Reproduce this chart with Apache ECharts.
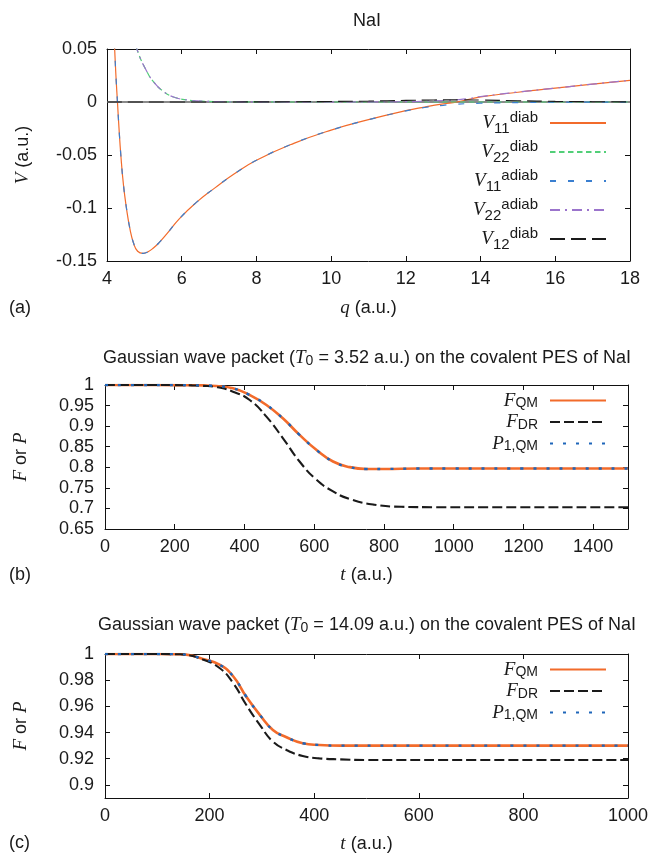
<!DOCTYPE html>
<html>
<head>
<meta charset="utf-8">
<script src="https://cdn.jsdelivr.net/npm/echarts@6/dist/echarts.min.js"></script>
<style>html,body{margin:0;padding:0;background:#fff}#c{width:653px;height:855px}</style>
</head>
<body>
<div id="c"></div>
<script>
// ---------- Panel (a): NaI potentials ----------
const qV11diab = [4.15,4.205,4.24,4.28,4.32,4.37,4.44,4.52,4.61,4.71,4.82,4.97,5.10,5.25,5.40,5.60,5.94,6.40,6.89,7.40,8.0,9.0,10.0,11.0,12.0,12.5,13.0,13.37,14.0,15.0,16.0,17.0,18.0];
const vV11diab = [0.090,0.050,0.024,0.000,-0.024,-0.050,-0.078,-0.100,-0.119,-0.133,-0.1408,-0.1428,-0.1413,-0.1375,-0.1325,-0.1245,-0.110,-0.0945,-0.081,-0.068,-0.055,-0.039,-0.0265,-0.0167,-0.0082,-0.0048,-0.0018,0.0,0.0048,0.0092,0.0130,0.0169,0.0204];

const qV22diab = [4.60,4.80,5.07,5.27,5.47,5.78,6.23,6.50,7.0,8.0,10.0,12.0,14.0,16.0,18.0];
const vV22diab = [0.076,0.050,0.0285,0.018,0.0111,0.0047,0.0016,0.0009,0.0003,0.0001,0,0,0,0,0];

const qV11adiab = [4.15,4.205,4.24,4.28,4.32,4.37,4.44,4.52,4.61,4.71,4.82,4.97,5.10,5.25,5.40,5.60,5.94,6.40,6.89,7.40,8.0,9.0,10.0,11.0,12.0,12.5,13.0,13.37,14.0,14.5,15.0,16.0,17.0,18.0];
const vV11adiab = [0.090,0.050,0.024,0.000,-0.024,-0.050,-0.078,-0.100,-0.119,-0.133,-0.1408,-0.1428,-0.1413,-0.1375,-0.1325,-0.1245,-0.110,-0.0945,-0.081,-0.068,-0.055,-0.039,-0.0265,-0.0167,-0.0084,-0.0052,-0.0031,-0.0020,-0.0012,-0.0008,-0.0005,-0.0002,-0.0001,0.0];

const qV22adiab = [4.60,4.80,5.07,5.27,5.47,5.78,6.23,6.50,7.0,8.0,10.0,11.0,12.0,12.5,13.0,13.37,13.7,14.0,14.5,15.0,16.0,17.0,18.0];
const vV22adiab = [0.076,0.050,0.0285,0.018,0.0111,0.0047,0.0016,0.0009,0.0003,0.0001,0,0.0001,0.0003,0.0007,0.0014,0.0021,0.0033,0.0052,0.0073,0.0094,0.0131,0.0169,0.0204];

const qV12diab = [4,6,8,9,10,11,12,12.5,13,13.5,14,15,16,17,18];
const vV12diab = [0,0,0.0001,0.0002,0.0005,0.0009,0.0015,0.0018,0.0020,0.0020,0.0018,0.0012,0.0006,0.0003,0.0001];

const qTicks = [4,18,2];          // min, max, step
const vTicks = [-0.15,0.05,0.05];

// ---------- Panel (b): T0 = 3.52 a.u. ----------
const tFQMb = [0,100,200,250,280,319,367,415,463,510,558,606,654,702,750,800,900,1000,1200,1500];
const FQMb  = [1,1,0.9998,0.9993,0.999,0.9975,0.992,0.9757,0.9515,0.919,0.8787,0.8424,0.814,0.8004,0.796,0.796,0.797,0.797,0.797,0.797];
const tFDRb = [0,100,200,250,280,319,367,415,463,510,558,606,654,702,773,850,950,1100,1500];
const FDRb  = [1,1,0.9998,0.999,0.998,0.995,0.9838,0.9636,0.9232,0.871,0.814,0.770,0.7413,0.7228,0.709,0.704,0.703,0.703,0.703];
const tP1b  = [0,100,200,250,280,319,367,415,463,510,558,606,654,702,750,800,900,1000,1200,1500];
const P1b   = [1,1,0.9998,0.9993,0.999,0.9975,0.992,0.9757,0.9515,0.919,0.8787,0.8424,0.814,0.8004,0.796,0.796,0.797,0.797,0.797,0.797];

// ---------- Panel (c): T0 = 14.09 a.u. ----------
const tFQMc = [0,100,140,155,187,219,245,270,296,321,347,378,410,450,600,800,1000];
const FQMc  = [1,1,0.9998,0.9995,0.9962,0.9918,0.983,0.9675,0.9535,0.942,0.9364,0.9318,0.9305,0.930,0.930,0.930,0.930];
const tFDRc = [0,100,140,155,187,219,245,270,296,321,347,378,410,450,500,700,1000];
const FDRc  = [1,1,0.9998,0.9994,0.9958,0.9893,0.9778,0.9612,0.9459,0.9331,0.9267,0.9221,0.9203,0.9195,0.919,0.919,0.919];
const tP1c  = [0,100,140,155,187,219,245,270,296,321,347,378,410,450,600,800,1000];
const P1c   = [1,1,0.9998,0.9995,0.9962,0.9918,0.983,0.9675,0.9535,0.942,0.9364,0.9318,0.9305,0.930,0.930,0.930,0.930];
const cYTicks = [0.9,0.92,0.94,0.96,0.98,1];

// ---------- styling ----------
const SANS = 'Liberation Sans';
const SERIF = 'Liberation Serif';
const TXT = '#1a1a1a';
const FS = 18;
const ORANGE = '#f26b2b', GREEN = '#52cf78', BLUE_A = '#3a7fd0', PURPLE = '#9b74cc', BLACK = '#1a1a1a', BLUE = '#1e66ba';

const zip = (xs, ys) => xs.map((x, i) => [x, ys[i]]);
const fmt = v => String(+(+v).toFixed(4));

function axisBase(extra) {
  return Object.assign({
    type: 'value',
    axisLine: {show: true, onZero: false, lineStyle: {color: '#111', width: 1}},
    axisTick: {show: true, inside: true, length: 5, lineStyle: {color: '#111', width: 1}},
    splitLine: {show: false},
    axisLabel: {color: TXT, fontSize: FS, fontFamily: SANS, margin: 9, formatter: fmt}
  }, extra);
}
const nameStyle = {
  color: TXT, fontSize: FS, fontFamily: SANS, lineHeight: 20,
  rich: {i: {fontFamily: SERIF, fontStyle: 'italic', fontSize: 19, lineHeight: 20}}
};

function mirrorX(grid, min, max, step) {
  return axisBase({gridIndex: grid, position: 'top', min, max, interval: step, axisLabel: {show: false}});
}
function mirrorY(grid, min, max, step) {
  return axisBase({gridIndex: grid, position: 'right', min, max, interval: step, axisLabel: {show: false}});
}

function line(name, data, axis, color, width, type, extra) {
  return Object.assign({
    name, type: 'line', data, xAxisIndex: axis, yAxisIndex: axis,
    showSymbol: false, symbol: 'none', smooth: 0.5,
    clip: true, silent: true,
    lineStyle: {color, width, type},
    itemStyle: {color}
  }, extra || {});
}

const legendText = {
  'V11diab': '{v|V}{sub|11}{sup|diab}',
  'V22diab': '{v|V}{sub|22}{sup|diab}',
  'V11adiab': '{v|V}{sub|11}{sup|adiab}',
  'V22adiab': '{v|V}{sub|22}{sup|adiab}',
  'V12diab': '{v|V}{sub|12}{sup|diab}',
  'FQM_b': '{v|F}{sub|QM}', 'FDR_b': '{v|F}{sub|DR}', 'P1_b': '{v|P}{sub|1,QM}',
  'FQM_c': '{v|F}{sub|QM}', 'FDR_c': '{v|F}{sub|DR}', 'P1_c': '{v|P}{sub|1,QM}'
};
const richA = {
  v: {fontFamily: SERIF, fontStyle: 'italic', fontSize: 19, lineHeight: 26, verticalAlign: 'middle', color: TXT},
  sub: {fontFamily: SANS, fontSize: 15, lineHeight: 13, verticalAlign: 'bottom', color: TXT},
  sup: {fontFamily: SANS, fontSize: 15, lineHeight: 13, verticalAlign: 'top', color: TXT, padding: [0, 7, 0, 0]}
};
const richB = {
  v: {fontFamily: SERIF, fontStyle: 'italic', fontSize: 19, lineHeight: 20, verticalAlign: 'middle', color: TXT},
  sub: {fontFamily: SANS, fontSize: 14, lineHeight: 10, verticalAlign: 'bottom', color: TXT, padding: [0, 7, 0, 0]}
};
function legend(names, top, gap, rich) {
  return {
    data: names, orient: 'vertical', right: 46, top, align: 'right', padding: 0,
    itemWidth: 56, itemHeight: 14, itemGap: gap, selectedMode: false,
    itemStyle: {opacity: 0},
    formatter: n => legendText[n],
    textStyle: {color: TXT, fontFamily: SANS, rich}
  };
}
const titleRich = {
  i: {fontFamily: SERIF, fontStyle: 'italic', fontSize: 19, lineHeight: 20, verticalAlign: 'middle', color: TXT},
  s: {fontFamily: SANS, fontSize: 14, lineHeight: 10, verticalAlign: 'bottom', color: TXT}
};
function title(text, top) {
  return {text, left: 367, top, textAlign: 'center', padding: 0,
    textStyle: {color: TXT, fontSize: FS, fontFamily: SANS, fontWeight: 'normal', lineHeight: 20, rich: titleRich}};
}

const option = {
  animation: false,
  backgroundColor: '#fff',
  title: [
    title('NaI', 11),
    title('Gaussian wave packet ({i|T}{s|0} = 3.52 a.u.) on the covalent PES of NaI', 348),
    title('Gaussian wave packet ({i|T}{s|0} = 14.09 a.u.) on the covalent PES of NaI', 615)
  ],
  grid: [
    {left: 107, top: 49, width: 523, height: 212},
    {left: 105, top: 385, width: 523, height: 144},
    {left: 105, top: 654, width: 523, height: 144}
  ],
  xAxis: [
    axisBase({gridIndex: 0, min: qTicks[0], max: qTicks[1], interval: qTicks[2],
      name: '{i|q} (a.u.)', nameLocation: 'middle', nameGap: 37, nameTextStyle: nameStyle}),
    mirrorX(0, qTicks[0], qTicks[1], qTicks[2]),
    axisBase({gridIndex: 1, min: 0, max: 1500, interval: 200,
      axisLabel: {color: TXT, fontSize: FS, fontFamily: SANS, margin: 9, showMaxLabel: false, formatter: fmt},
      name: '{i|t} (a.u.)', nameLocation: 'middle', nameGap: 36, nameTextStyle: nameStyle}),
    mirrorX(1, 0, 1500, 200),
    axisBase({gridIndex: 2, min: 0, max: 1000, interval: 200,
      name: '{i|t} (a.u.)', nameLocation: 'middle', nameGap: 36, nameTextStyle: nameStyle}),
    mirrorX(2, 0, 1000, 200)
  ],
  yAxis: [
    axisBase({gridIndex: 0, min: vTicks[0], max: vTicks[1], interval: vTicks[2],
      axisLabel: {color: TXT, fontSize: FS, fontFamily: SANS, margin: 10, formatter: fmt},
      name: '{i|V} (a.u.)', nameLocation: 'middle', nameGap: 74, nameTextStyle: nameStyle}),
    mirrorY(0, vTicks[0], vTicks[1], vTicks[2]),
    axisBase({gridIndex: 1, min: 0.65, max: 1, interval: 0.05,
      axisLabel: {color: TXT, fontSize: FS, fontFamily: SANS, margin: 11, formatter: fmt},
      name: '{i|F} or {i|P}', nameLocation: 'middle', nameGap: 74, nameTextStyle: nameStyle}),
    mirrorY(1, 0.65, 1, 0.05),
    axisBase({gridIndex: 2, min: 0.89, max: 1,
      axisLabel: {color: TXT, fontSize: FS, fontFamily: SANS, margin: 11, customValues: cYTicks, formatter: fmt},
      axisTick: {show: true, inside: true, length: 5, lineStyle: {color: '#111', width: 1}, customValues: cYTicks},
      name: '{i|F} or {i|P}', nameLocation: 'middle', nameGap: 74, nameTextStyle: nameStyle}),
    axisBase({gridIndex: 2, position: 'right', min: 0.89, max: 1,
      axisLabel: {show: false, customValues: cYTicks},
      axisTick: {show: true, inside: true, length: 5, lineStyle: {color: '#111', width: 1}, customValues: cYTicks}})
  ],
  legend: [
    legend(['V11diab', 'V22diab', 'V11adiab', 'V22adiab', 'V12diab'], 110, 3, richA),
    legend(['FQM_b', 'FDR_b', 'P1_b'], 391, 2, richB),
    legend(['FQM_c', 'FDR_c', 'P1_c'], 660, 2, richB)
  ],
  series: [
    line('V11diab', zip(qV11diab, vV11diab), 0, ORANGE, 1.2, 'solid', {
      markLine: {silent: true, symbol: ['none', 'none'], z: 1, label: {show: false},
        lineStyle: {color: '#8a8a8a', width: 1.8, type: 'solid'}, data: [{yAxis: 0}]}
    }),
    line('V22diab', zip(qV22diab, vV22diab), 0, GREEN, 1.2, [5.5, 3.5]),
    line('V11adiab', zip(qV11adiab, vV11adiab), 0, BLUE_A, 1.2, [6, 12]),
    line('V22adiab', zip(qV22adiab, vV22adiab), 0, PURPLE, 1.2, [10, 5, 2, 5]),
    line('V12diab', zip(qV12diab, vV12diab), 0, BLACK, 1.1, [15, 6]),

    line('FQM_b', zip(tFQMb, FQMb), 2, ORANGE, 2.6, 'solid'),
    line('FDR_b', zip(tFDRb, FDRb), 2, BLACK, 2.1, [10, 4]),
    line('P1_b', zip(tP1b, P1b), 2, BLUE, 2.4, [3, 10]),

    line('FQM_c', zip(tFQMc, FQMc), 4, ORANGE, 2.6, 'solid'),
    line('FDR_c', zip(tFDRc, FDRc), 4, BLACK, 2.1, [10, 4]),
    line('P1_c', zip(tP1c, P1c), 4, BLUE, 2.4, [3, 10])
  ],
  graphic: [
    {type: 'text', left: 9, top: 299, style: {text: '(a)', font: '18px "Liberation Sans"', fill: TXT}},
    {type: 'text', left: 9, top: 566, style: {text: '(b)', font: '18px "Liberation Sans"', fill: TXT}},
    {type: 'text', left: 9, top: 834, style: {text: '(c)', font: '18px "Liberation Sans"', fill: TXT}}
  ]
};

const chart = echarts.init(document.getElementById('c'), null, {renderer: 'canvas', width: 653, height: 855});
chart.setOption(option);
</script>
</body>
</html>
